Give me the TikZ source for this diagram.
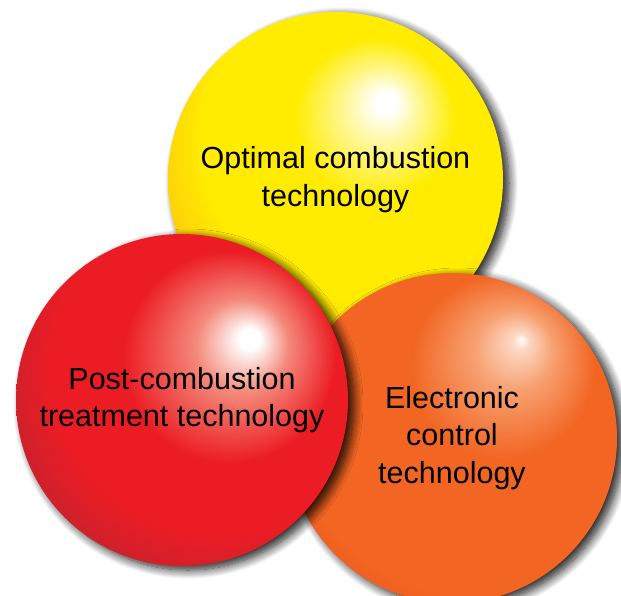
\documentclass[tikz,border=0pt]{standalone}
\usepackage{fontspec}
\setmainfont{Liberation Sans}
\usetikzlibrary{shadows.blur}

\definecolor{yellowbase}{HTML}{FFEC00}
\definecolor{yellowedge}{HTML}{FDC010}
\definecolor{redbase}{HTML}{EC1C24}
\definecolor{redlight}{HTML}{F4897A}
\definecolor{rededge}{HTML}{BA2430}
\definecolor{orangebase}{HTML}{F26522}
\definecolor{orangelight}{HTML}{F7A070}
\definecolor{orangeedge}{HTML}{EC4524}

\pgfdeclareradialshading{yellowball}{\pgfpoint{7.7bp}{11.9bp}}{color(0bp)=(white); color(1.5bp)=(white); color(6bp)=(yellowbase!45!white); color(12bp)=(yellowbase); color(24bp)=(yellowbase); color(33bp)=(yellowedge); color(50bp)=(yellowedge)}
\pgfdeclareradialshading{redball}{\pgfpoint{10.5bp}{9.5bp}}{color(0bp)=(white); color(1.5bp)=(white); color(7bp)=(redlight); color(16bp)=(redbase); color(25bp)=(redbase); color(34bp)=(rededge); color(50bp)=(rededge)}
\pgfdeclareradialshading{orangeball}{\pgfpoint{10.6bp}{15bp}}{color(0bp)=(white); color(1.2bp)=(white!60!orangelight); color(6bp)=(orangelight); color(14bp)=(orangebase); color(30bp)=(orangebase); color(40bp)=(orangeedge); color(50bp)=(orangeedge)}

\begin{document}
\begin{tikzpicture}[x=1pt, y=-1pt, font=\fontsize{30.5}{37.5}\selectfont,
  sphere/.style={circle, inner sep=0pt, align=center, minimum size=#1,
    blur shadow={shadow xshift=6pt, shadow yshift=-4pt, shadow blur radius=9pt, shadow blur steps=12, shadow opacity=90}}]
  \useasboundingbox (0,0) rectangle (621,595);

  % Define spheres
  \node[sphere=335pt, shading=yellowball] (0) at (335.5,179.5) {Optimal combustion\\technology};
  \node[sphere=330pt, shading=orangeball] (2) at (452,438) {Electronic\\control\\technology};
  \node[sphere=332pt, shading=redball] (1) at (182,400) {Post-combustion\\treatment technology};

\end{tikzpicture}
\end{document}
